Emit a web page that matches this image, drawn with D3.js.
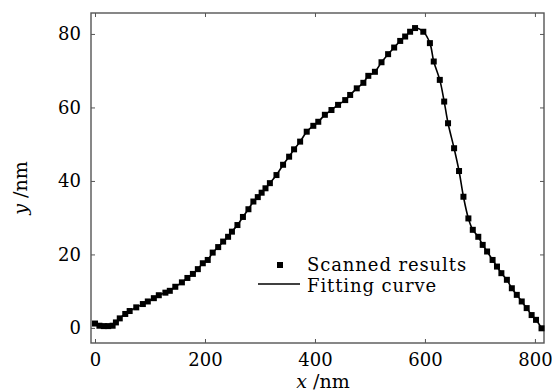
<!DOCTYPE html>
<html>
<head>
<meta charset="utf-8">
<script src="https://cdn.jsdelivr.net/npm/d3@7"></script>
<style>
  html, body { margin: 0; padding: 0; background: #fff; }
  svg { display: block; }
  text { font-family: "DejaVu Serif", "Liberation Serif", serif; fill: #000; }
</style>
</head>
<body>
<svg id="chart" width="552" height="392"></svg>
<script>
// Scanned profile: lateral position x (nm) and height y (nm)
const scanX = [0, 8, 16, 24, 32, 38, 45, 55, 63, 75, 87, 96, 107, 116, 128, 136, 146, 158, 168, 178,
  187, 196, 205, 214, 224, 233, 242, 249, 259, 269, 279, 288, 296, 303, 310, 318, 330, 342, 353, 362,
  373, 385, 397, 406, 418, 430, 442, 455, 464, 476, 488, 497, 509, 521, 533, 544, 555, 564, 573, 582,
  597, 609, 616, 627, 635, 642, 653, 662, 670, 679, 687, 697, 705, 713, 723, 731, 739, 749, 758, 767,
  776, 785, 794, 802, 812];
const scanY = [1.2, 0.6, 0.5, 0.5, 0.6, 1.5, 2.6, 3.8, 4.6, 5.6, 6.5, 7.2, 8.1, 8.9, 9.6, 10.1, 11.2, 12.4, 13.6, 14.7,
  16.0, 17.6, 18.5, 20.5, 22.0, 23.5, 24.8, 26.2, 28.0, 30.2, 32.3, 34.4, 35.6, 36.8, 38.0, 39.4, 41.6, 44.4, 46.6, 48.6,
  50.7, 53.4, 55.0, 56.1, 58.0, 59.3, 60.7, 62.0, 63.4, 65.2, 66.7, 68.6, 69.7, 72.3, 74.5, 76.3, 78.1, 79.3, 80.6, 81.6,
  80.6, 77.5, 72.5, 67.5, 61.6, 55.7, 48.9, 42.7, 35.7, 29.8, 26.7, 24.8, 22.6, 20.8, 18.5, 16.7, 14.9, 13.1, 10.8, 9.0,
  7.2, 5.4, 3.5, 2.2, -0.1];

const xTicks = [0, 200, 400, 600, 800];
const yTicks = [0, 20, 40, 60, 80];
const legendLabels = ["Scanned results", "Fitting curve"];

const points = scanX.map((x, i) => ({ x, y: scanY[i] }));

const svg = d3.select("#chart");
const box = { left: 91, right: 544, top: 13, bottom: 343 };

const x = d3.scaleLinear().domain([-7.3, 816.5]).range([box.left, box.right]);
const y = d3.scaleLinear().domain([-4.1, 85.7]).range([box.bottom, box.top]);

// Frame
svg.append("rect")
  .attr("x", box.left).attr("y", box.top)
  .attr("width", box.right - box.left).attr("height", box.bottom - box.top)
  .attr("fill", "none").attr("stroke", "#555").attr("stroke-width", 1.4);

// Inward ticks on all four sides
const tickLen = 4;
const axB = d3.axisBottom(x).tickValues(xTicks).tickSizeInner(-tickLen).tickSizeOuter(0).tickPadding(10);
const axT = d3.axisTop(x).tickValues(xTicks).tickSizeInner(-tickLen).tickSizeOuter(0).tickFormat("");
const axL = d3.axisLeft(y).tickValues(yTicks).tickSizeInner(-tickLen).tickSizeOuter(0).tickPadding(10);
const axR = d3.axisRight(y).tickValues(yTicks).tickSizeInner(-tickLen).tickSizeOuter(0).tickFormat("");

function styleAxis(g) {
  g.select(".domain").remove();
  g.selectAll(".tick line").attr("stroke", "#555").attr("stroke-width", 1);
  g.selectAll(".tick text").attr("font-family", "DejaVu Serif, serif").attr("font-size", 18).attr("fill", "#000");
}
svg.append("g").attr("transform", `translate(0,${box.bottom})`).call(axB).call(styleAxis);
svg.append("g").attr("transform", `translate(0,${box.top})`).call(axT).call(styleAxis);
svg.append("g").attr("transform", `translate(${box.left},0)`).call(axL).call(styleAxis);
svg.append("g").attr("transform", `translate(${box.right},0)`).call(axR).call(styleAxis);

// Axis titles
const xt = svg.append("text").attr("x", 323).attr("y", 388).attr("text-anchor", "middle").attr("font-size", 19);
xt.append("tspan").attr("font-style", "italic").text("x");
xt.append("tspan").text(" /nm");

const yt = svg.append("text").attr("transform", "translate(27,188) rotate(-90)")
  .attr("text-anchor", "middle").attr("font-size", 19);
yt.append("tspan").attr("font-style", "italic").text("y");
yt.append("tspan").text(" /nm");

// Fitting curve
const line = d3.line()
  .x(d => x(d.x))
  .y(d => y(d.y))
  .curve(d3.curveCatmullRom.alpha(0.5));
svg.append("path").datum(points)
  .attr("d", line)
  .attr("fill", "none").attr("stroke", "#000").attr("stroke-width", 1.6);

// Scanned points
const ms = 6;
svg.append("g").selectAll("rect").data(points).join("rect")
  .attr("x", d => x(d.x) - ms / 2).attr("y", d => y(d.y) - ms / 2)
  .attr("width", ms).attr("height", ms).attr("fill", "#000");

// Legend
const lg = svg.append("g");
lg.append("rect").attr("x", 277).attr("y", 262).attr("width", 6).attr("height", 6).attr("fill", "#000");
lg.append("line").attr("x1", 258).attr("x2", 300).attr("y1", 284).attr("y2", 284)
  .attr("stroke", "#000").attr("stroke-width", 1.4);
lg.append("text").attr("x", 307).attr("y", 271).attr("font-size", 18).attr("letter-spacing", 0.9).text(legendLabels[0]);
lg.append("text").attr("x", 307).attr("y", 292).attr("font-size", 18).attr("letter-spacing", 0.9).text(legendLabels[1]);
</script>
</body>
</html>
